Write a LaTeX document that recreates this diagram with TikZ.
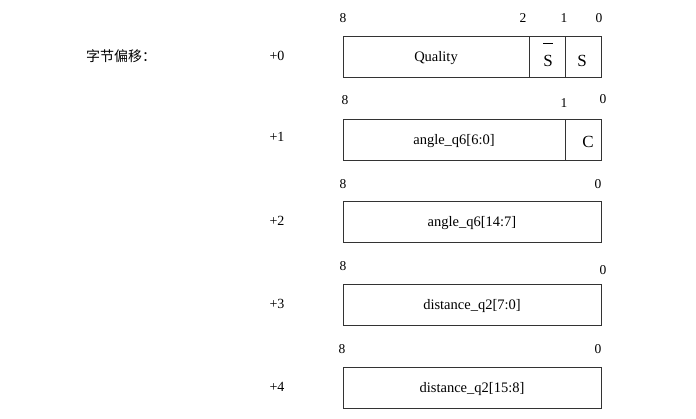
\documentclass[tikz,border=0pt]{standalone}
\usepackage{fontspec}
\setmainfont{Liberation Serif}
\newfontfamily\cjk{Noto Sans CJK SC}
\usetikzlibrary{positioning}

\begin{document}
\begin{tikzpicture}[x=1pt,y=-1pt,
    field/.style={rectangle, draw=black!80, thick, minimum height=41pt, inner sep=0pt,
                  text height=10pt, text depth=1pt, font=\fontsize{14.5}{17}\selectfont},
    bitno/.style={font=\fontsize{13.5}{15}\selectfont, inner sep=0pt},
    offs/.style={font=\fontsize{14}{16}\selectfont, inner sep=0pt},
    bigletter/.style={font=\fontsize{17}{19}\selectfont, inner sep=0pt}]
  \useasboundingbox (0,0) rectangle (696,418);

  \node[font=\cjk\fontsize{14}{16}\selectfont, anchor=west, inner sep=0pt] (title) at (86,56) {字节偏移：};

  % byte +0
  \node[offs] (o0) at (277,56) {+0};
  \node[field, minimum width=186pt] (quality) at (436,56.5) {Quality};
  \node[field, minimum width=36pt] (sbar) at (547,56.5) {};
  \node[bigletter, anchor=base] (sbartxt) at (548,66) {$\overline{\mbox{\rule{0pt}{21.5pt}S}}$};
  \node[field, minimum width=36pt] (s) at (583,56.5) {};
  \node[bigletter, anchor=base] (stxt) at (582,66) {S};
  \node[bitno] (b0a) at (343,18) {8};
  \node[bitno] (b0b) at (523,18) {2};
  \node[bitno] (b0c) at (564,18) {1};
  \node[bitno] (b0d) at (599,18) {0};

  % byte +1
  \node[offs] (o1) at (277,137) {+1};
  \node[field, minimum width=222pt] (angle1) at (454,139.5) {angle\_q6[6:0]};
  \node[field, minimum width=36pt] (c) at (583,139.5) {};
  \node[bigletter, anchor=base] (ctxt) at (588,147.5) {C};
  \node[bitno] (b1a) at (345,100) {8};
  \node[bitno] (b1b) at (564,103) {1};
  \node[bitno] (b1c) at (603,99) {0};

  % byte +2
  \node[offs] (o2) at (277,221) {+2};
  \node[field, minimum width=258pt] (angle2) at (472,222) {angle\_q6[14:7]};
  \node[bitno] (b2a) at (343,184) {8};
  \node[bitno] (b2b) at (598,184) {0};

  % byte +3
  \node[offs] (o3) at (277,304) {+3};
  \node[field, minimum width=258pt] (dist1) at (472,305) {distance\_q2[7:0]};
  \node[bitno] (b3a) at (343,266) {8};
  \node[bitno] (b3b) at (603,270) {0};

  % byte +4
  \node[offs] (o4) at (277,387) {+4};
  \node[field, minimum width=258pt] (dist2) at (472,387.5) {distance\_q2[15:8]};
  \node[bitno] (b4a) at (342,349) {8};
  \node[bitno] (b4b) at (598,349) {0};
\end{tikzpicture}
\end{document}
